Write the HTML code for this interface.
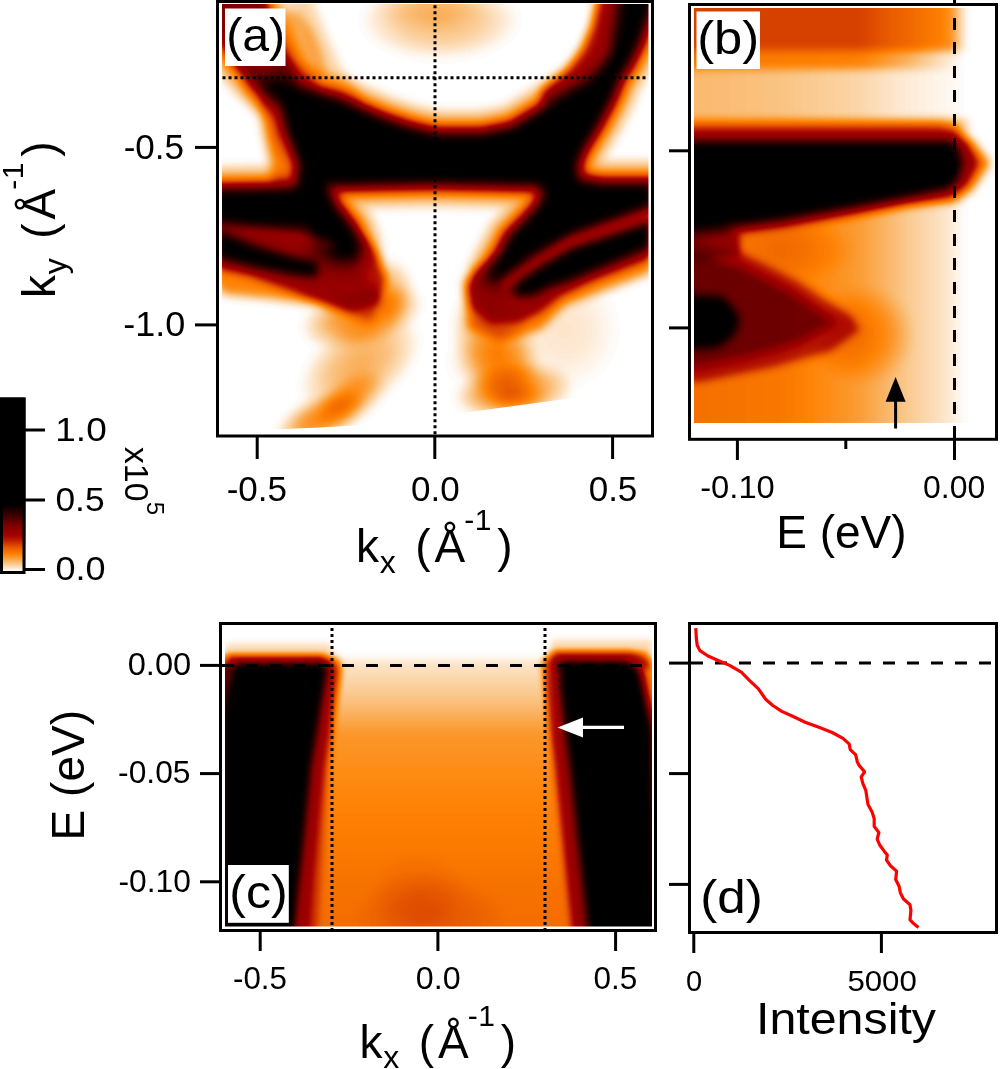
<!DOCTYPE html>
<html><head><meta charset="utf-8"><title>figure</title>
<style>
html,body{margin:0;padding:0;background:#fff;}
svg{display:block;will-change:transform;}
text{font-family:"Liberation Sans",sans-serif;fill:#000;}
</style></head><body>
<svg width="1000" height="1069" viewBox="0 0 1000 1069">
<defs>
<filter id="cmA" filterUnits="userSpaceOnUse" x="150" y="-60" width="560" height="560" color-interpolation-filters="sRGB">
<feGaussianBlur stdDeviation="5"/>
<feComponentTransfer>
<feFuncR type="table" tableValues="0 0.039 0.078 0.118 0.157 0.196 0.235 0.275 0.314 0.353 0.392 0.431 0.471 0.51 0.549 0.569 0.588 0.612 0.635 0.665 0.694 0.729 0.765 0.806 0.847 0.878 0.91 0.935 0.961 0.985 0.998 0.993 0.988 0.984 0.98 0.982 0.984 0.988 0.992 0.996 1"/>
<feFuncG type="table" tableValues="0 0 0 0 0 0 0 0 0 0 0 0 0 0 0 0 0 0 0 0.029 0.059 0.104 0.149 0.202 0.255 0.308 0.361 0.4 0.439 0.478 0.52 0.564 0.608 0.657 0.706 0.755 0.804 0.849 0.894 0.947 1"/>
<feFuncB type="table" tableValues="0 0 0 0 0 0 0 0 0 0 0 0 0 0 0 0 0 0 0 0 0 0 0 0 0 0 0 0 0 0 0.033 0.114 0.196 0.294 0.392 0.49 0.588 0.686 0.784 0.892 1"/>
</feComponentTransfer>
</filter>
<filter id="cmB" filterUnits="userSpaceOnUse" x="620" y="-60" width="440" height="560" color-interpolation-filters="sRGB">
<feGaussianBlur stdDeviation="4"/>
<feComponentTransfer>
<feFuncR type="table" tableValues="0 0.039 0.078 0.118 0.157 0.196 0.235 0.275 0.314 0.353 0.392 0.431 0.471 0.51 0.549 0.569 0.588 0.612 0.635 0.665 0.694 0.729 0.765 0.806 0.847 0.878 0.91 0.935 0.961 0.985 0.998 0.993 0.988 0.984 0.98 0.982 0.984 0.988 0.992 0.996 1"/>
<feFuncG type="table" tableValues="0 0 0 0 0 0 0 0 0 0 0 0 0 0 0 0 0 0 0 0.029 0.059 0.104 0.149 0.202 0.255 0.308 0.361 0.4 0.439 0.478 0.52 0.564 0.608 0.657 0.706 0.755 0.804 0.849 0.894 0.947 1"/>
<feFuncB type="table" tableValues="0 0 0 0 0 0 0 0 0 0 0 0 0 0 0 0 0 0 0 0 0 0 0 0 0 0 0 0 0 0 0.033 0.114 0.196 0.294 0.392 0.49 0.588 0.686 0.784 0.892 1"/>
</feComponentTransfer>
</filter>
<filter id="cmC" filterUnits="userSpaceOnUse" x="150" y="560" width="560" height="440" color-interpolation-filters="sRGB">
<feGaussianBlur stdDeviation="3"/>
<feComponentTransfer>
<feFuncR type="table" tableValues="0 0.039 0.078 0.118 0.157 0.196 0.235 0.275 0.314 0.353 0.392 0.431 0.471 0.51 0.549 0.569 0.588 0.612 0.635 0.665 0.694 0.729 0.765 0.806 0.847 0.878 0.91 0.935 0.961 0.985 0.998 0.993 0.988 0.984 0.98 0.982 0.984 0.988 0.992 0.996 1"/>
<feFuncG type="table" tableValues="0 0 0 0 0 0 0 0 0 0 0 0 0 0 0 0 0 0 0 0.029 0.059 0.104 0.149 0.202 0.255 0.308 0.361 0.4 0.439 0.478 0.52 0.564 0.608 0.657 0.706 0.755 0.804 0.849 0.894 0.947 1"/>
<feFuncB type="table" tableValues="0 0 0 0 0 0 0 0 0 0 0 0 0 0 0 0 0 0 0 0 0 0 0 0 0 0 0 0 0 0 0.033 0.114 0.196 0.294 0.392 0.49 0.588 0.686 0.784 0.892 1"/>
</feComponentTransfer>
</filter>
<filter id="cmK" filterUnits="userSpaceOnUse" x="-10" y="380" width="60" height="210" color-interpolation-filters="sRGB">
<feComponentTransfer>
<feFuncR type="table" tableValues="0 0.039 0.078 0.118 0.157 0.196 0.235 0.275 0.314 0.353 0.392 0.431 0.471 0.51 0.549 0.569 0.588 0.612 0.635 0.665 0.694 0.729 0.765 0.806 0.847 0.878 0.91 0.935 0.961 0.985 0.998 0.993 0.988 0.984 0.98 0.982 0.984 0.988 0.992 0.996 1"/>
<feFuncG type="table" tableValues="0 0 0 0 0 0 0 0 0 0 0 0 0 0 0 0 0 0 0 0.029 0.059 0.104 0.149 0.202 0.255 0.308 0.361 0.4 0.439 0.478 0.52 0.564 0.608 0.657 0.706 0.755 0.804 0.849 0.894 0.947 1"/>
<feFuncB type="table" tableValues="0 0 0 0 0 0 0 0 0 0 0 0 0 0 0 0 0 0 0 0 0 0 0 0 0 0 0 0 0 0 0.033 0.114 0.196 0.294 0.392 0.49 0.588 0.686 0.784 0.892 1"/>
</feComponentTransfer>
</filter>
<linearGradient id="cbg" x1="0" y1="571" x2="0" y2="505" gradientUnits="userSpaceOnUse">
<stop offset="0" stop-color="#fff"/><stop offset="1" stop-color="#000"/>
</linearGradient>
<linearGradient id="cgrad" x1="0" y1="662" x2="0" y2="930" gradientUnits="userSpaceOnUse">
<stop offset="0" stop-color="#fff"/><stop offset="0.25" stop-color="#d0d0d0"/><stop offset="1" stop-color="#b0b0b0"/>
</linearGradient>
<radialGradient id="rg1"><stop offset="0" stop-color="#000" stop-opacity="0.14"/><stop offset="0.5" stop-color="#000" stop-opacity="0.098"/><stop offset="1" stop-color="#000" stop-opacity="0"/></radialGradient>
<radialGradient id="rg2"><stop offset="0" stop-color="#000" stop-opacity="0.05"/><stop offset="0.5" stop-color="#000" stop-opacity="0.035"/><stop offset="1" stop-color="#000" stop-opacity="0"/></radialGradient>
<radialGradient id="rg3"><stop offset="0" stop-color="#000" stop-opacity="0.05"/><stop offset="0.5" stop-color="#000" stop-opacity="0.035"/><stop offset="1" stop-color="#000" stop-opacity="0"/></radialGradient>
<radialGradient id="rg4"><stop offset="0" stop-color="#000" stop-opacity="0.26"/><stop offset="0.5" stop-color="#000" stop-opacity="0.182"/><stop offset="1" stop-color="#000" stop-opacity="0"/></radialGradient>
<radialGradient id="rg5"><stop offset="0" stop-color="#000" stop-opacity="0.17"/><stop offset="0.5" stop-color="#000" stop-opacity="0.119"/><stop offset="1" stop-color="#000" stop-opacity="0"/></radialGradient>
<radialGradient id="rg6"><stop offset="0" stop-color="#000" stop-opacity="0.27"/><stop offset="0.5" stop-color="#000" stop-opacity="0.189"/><stop offset="1" stop-color="#000" stop-opacity="0"/></radialGradient>
<radialGradient id="rg7"><stop offset="0" stop-color="#000" stop-opacity="0.16"/><stop offset="0.5" stop-color="#000" stop-opacity="0.112"/><stop offset="1" stop-color="#000" stop-opacity="0"/></radialGradient>
<radialGradient id="rg8"><stop offset="0" stop-color="#000" stop-opacity="0.23"/><stop offset="0.5" stop-color="#000" stop-opacity="0.161"/><stop offset="1" stop-color="#000" stop-opacity="0"/></radialGradient>
<radialGradient id="rg9"><stop offset="0" stop-color="#000" stop-opacity="0.24"/><stop offset="0.5" stop-color="#000" stop-opacity="0.168"/><stop offset="1" stop-color="#000" stop-opacity="0"/></radialGradient>
<radialGradient id="rg10"><stop offset="0" stop-color="#000" stop-opacity="0.1"/><stop offset="0.5" stop-color="#000" stop-opacity="0.070"/><stop offset="1" stop-color="#000" stop-opacity="0"/></radialGradient>
<radialGradient id="rg11"><stop offset="0" stop-color="#000" stop-opacity="0.08"/><stop offset="0.5" stop-color="#000" stop-opacity="0.056"/><stop offset="1" stop-color="#000" stop-opacity="0"/></radialGradient>
<radialGradient id="rg12"><stop offset="0" stop-color="#000" stop-opacity="0.08"/><stop offset="0.5" stop-color="#000" stop-opacity="0.056"/><stop offset="1" stop-color="#000" stop-opacity="0"/></radialGradient>
<radialGradient id="rg13"><stop offset="0" stop-color="#000" stop-opacity="0.16"/><stop offset="0.5" stop-color="#000" stop-opacity="0.112"/><stop offset="1" stop-color="#000" stop-opacity="0"/></radialGradient>
<linearGradient id="lg14" gradientUnits="userSpaceOnUse" x1="680" y1="0" x2="970" y2="0"><stop offset="0.0483" stop-color="#000" stop-opacity="0.4"/><stop offset="0.6207" stop-color="#000" stop-opacity="0.4"/><stop offset="0.8276" stop-color="#000" stop-opacity="0.3"/><stop offset="0.9310" stop-color="#000" stop-opacity="0.24"/><stop offset="0.9862" stop-color="#000" stop-opacity="0.0"/></linearGradient>
<linearGradient id="lg15" gradientUnits="userSpaceOnUse" x1="680" y1="0" x2="970" y2="0"><stop offset="0.0483" stop-color="#000" stop-opacity="0.28"/><stop offset="0.6207" stop-color="#000" stop-opacity="0.26"/><stop offset="0.7931" stop-color="#000" stop-opacity="0.15"/><stop offset="0.8966" stop-color="#000" stop-opacity="0.06"/><stop offset="0.9724" stop-color="#000" stop-opacity="0.0"/></linearGradient>
<linearGradient id="lg16" gradientUnits="userSpaceOnUse" x1="680" y1="0" x2="970" y2="0"><stop offset="0.0483" stop-color="#000" stop-opacity="0.14"/><stop offset="0.3448" stop-color="#000" stop-opacity="0.12"/><stop offset="0.6207" stop-color="#000" stop-opacity="0.08"/><stop offset="0.7586" stop-color="#000" stop-opacity="0.04"/><stop offset="0.9483" stop-color="#000" stop-opacity="0.01"/><stop offset="0.9862" stop-color="#000" stop-opacity="0.0"/></linearGradient>
<linearGradient id="lg17" gradientUnits="userSpaceOnUse" x1="680" y1="0" x2="970" y2="0"><stop offset="0.0483" stop-color="#000" stop-opacity="0.32"/><stop offset="0.8966" stop-color="#000" stop-opacity="0.32"/><stop offset="0.9724" stop-color="#000" stop-opacity="0.15"/><stop offset="1.0172" stop-color="#000" stop-opacity="0.0"/></linearGradient>
<linearGradient id="lg18" gradientUnits="userSpaceOnUse" x1="694" y1="0" x2="966" y2="0"><stop offset="0" stop-color="#000" stop-opacity="0.3"/><stop offset="0.33" stop-color="#000" stop-opacity="0.28"/><stop offset="0.6" stop-color="#000" stop-opacity="0.2"/><stop offset="0.8" stop-color="#000" stop-opacity="0.1"/><stop offset="0.94" stop-color="#000" stop-opacity="0.04"/><stop offset="1" stop-color="#000" stop-opacity="0.0"/></linearGradient>
<radialGradient id="rg19"><stop offset="0" stop-color="#000" stop-opacity="0.14"/><stop offset="0.5" stop-color="#000" stop-opacity="0.098"/><stop offset="1" stop-color="#000" stop-opacity="0"/></radialGradient>
<radialGradient id="rg20"><stop offset="0" stop-color="#000" stop-opacity="0.06"/><stop offset="0.5" stop-color="#000" stop-opacity="0.042"/><stop offset="1" stop-color="#000" stop-opacity="0"/></radialGradient>
<linearGradient id="lg21" gradientUnits="userSpaceOnUse" x1="0" y1="655" x2="0" y2="935"><stop offset="0.0000" stop-color="#000" stop-opacity="0.0"/><stop offset="0.0321" stop-color="#000" stop-opacity="0.05"/><stop offset="0.1607" stop-color="#000" stop-opacity="0.12"/><stop offset="0.2857" stop-color="#000" stop-opacity="0.21"/><stop offset="0.5179" stop-color="#000" stop-opacity="0.25"/><stop offset="0.8036" stop-color="#000" stop-opacity="0.29"/><stop offset="0.9821" stop-color="#000" stop-opacity="0.31"/></linearGradient>
<radialGradient id="rg22"><stop offset="0" stop-color="#000" stop-opacity="0.08"/><stop offset="0.5" stop-color="#000" stop-opacity="0.056"/><stop offset="1" stop-color="#000" stop-opacity="0"/></radialGradient>
<radialGradient id="rg23"><stop offset="0" stop-color="#000" stop-opacity="0.05"/><stop offset="0.5" stop-color="#000" stop-opacity="0.035"/><stop offset="1" stop-color="#000" stop-opacity="0"/></radialGradient>
<clipPath id="clipA"><path d="M222,4 H648.5 V388 Q520,405 435,417 Q380,427 222,431 Z"/></clipPath>
<clipPath id="clipB"><rect x="694" y="8" width="300" height="415"/></clipPath>
<clipPath id="clipC"><rect x="225" y="625" width="427" height="301.5"/></clipPath>
</defs>

<rect x="0" y="0" width="1000" height="1069" fill="#fff"/>

<!-- ============ PANEL A HEATMAP ============ -->
<g clip-path="url(#clipA)">
<g filter="url(#cmA)">
<rect x="150" y="-60" width="560" height="560" fill="#fff"/>
<g id="A-shapes">
<ellipse cx="440" cy="20" rx="80" ry="40" fill="url(#rg1)"/>
<ellipse cx="430" cy="8" rx="60" ry="22" fill="url(#rg2)"/>
<ellipse cx="565" cy="330" rx="55" ry="60" fill="url(#rg3)"/>
<path d="M622,-5 652,-5 652,4 638,44 628,64 619,78 612,96 605,110 597,125 582,150 576,165 578,180 600,184 652,184 652,204 570,234 530,256 497,279 490,276 495,264 503,250 510,236 524,222 537,208 545,194 538,185 434,183 326,185 334,205 352,228 358,245 356,258 335,258 318,245 308,226 222,224 215,224 215,190 280,189 297,187 300,165 287,130 281,104 266,84 276,80 292,86 315,92 340,100 362,110 386,120 410,128 436,134 482,134 512,128 537,113 561,98 585,84 598,72 610,55 614,40 618,20 Z" fill="#000" fill-opacity="0.1" stroke="#000" stroke-opacity="0.1" stroke-width="46" stroke-linejoin="round"/>
<path d="M622,-5 652,-5 652,4 638,44 628,64 619,78 612,96 605,110 597,125 582,150 576,165 578,180 600,184 652,184 652,204 570,234 530,256 497,279 490,276 495,264 503,250 510,236 524,222 537,208 545,194 538,185 434,183 326,185 334,205 352,228 358,245 356,258 335,258 318,245 308,226 222,224 215,224 215,190 280,189 297,187 300,165 287,130 281,104 266,84 276,80 292,86 315,92 340,100 362,110 386,120 410,128 436,134 482,134 512,128 537,113 561,98 585,84 598,72 610,55 614,40 618,20 Z" fill="#000" fill-opacity="0.12" stroke="#000" stroke-opacity="0.12" stroke-width="32" stroke-linejoin="round"/>
<path d="M622,-5 652,-5 652,4 638,44 628,64 619,78 612,96 605,110 597,125 582,150 576,165 578,180 600,184 652,184 652,204 570,234 530,256 497,279 490,276 495,264 503,250 510,236 524,222 537,208 545,194 538,185 434,183 326,185 334,205 352,228 358,245 356,258 335,258 318,245 308,226 222,224 215,224 215,190 280,189 297,187 300,165 287,130 281,104 266,84 276,80 292,86 315,92 340,100 362,110 386,120 410,128 436,134 482,134 512,128 537,113 561,98 585,84 598,72 610,55 614,40 618,20 Z" fill="#000" fill-opacity="0.16" stroke="#000" stroke-opacity="0.16" stroke-width="20" stroke-linejoin="round"/>
<path d="M215,-5 262,-5 272,20 282,48 292,68 298,82 288,98 268,98 250,82 236,66 222,44 215,34 Z" fill="#000" fill-opacity="0.12" stroke="#000" stroke-opacity="0.12" stroke-width="36" stroke-linejoin="round"/>
<path d="M215,-5 262,-5 272,20 282,48 292,68 298,82 288,98 268,98 250,82 236,66 222,44 215,34 Z" fill="#000" fill-opacity="0.18" stroke="#000" stroke-opacity="0.18" stroke-width="18" stroke-linejoin="round"/>
<path d="M215,-5 262,-5 272,20 282,48 292,68 298,82 288,98 268,98 250,82 236,66 222,44 215,34 Z" fill="#000" fill-opacity="0.45" stroke="#000" stroke-opacity="0.45" stroke-width="0.1" stroke-linejoin="round"/>
<path d="M284,10 298,12 312,30 322,55 326,75 310,85 286,70 Z" fill="#000" fill-opacity="0.13" />
<path d="M300,0 316,40 332,75 350,98" fill="none" stroke="#000" stroke-opacity="0.08" stroke-width="22" stroke-linejoin="round" stroke-linecap="round"/>
<path d="M268,100 274,140 280,178" fill="none" stroke="#000" stroke-opacity="0.18" stroke-width="16" stroke-linejoin="round" stroke-linecap="round"/>
<path d="M215,215 300,222 345,250 380,300 372,322 320,305 270,298 225,294 215,285 Z" fill="#000" fill-opacity="0.25" />
<ellipse cx="362" cy="316" rx="62" ry="30" fill="url(#rg4)" transform="rotate(-15 362 316)"/>
<ellipse cx="360" cy="364" rx="68" ry="40" fill="url(#rg5)" transform="rotate(-35 360 364)"/>
<ellipse cx="322" cy="418" rx="50" ry="22" fill="url(#rg6)" transform="rotate(-25 322 418)"/>
<ellipse cx="352" cy="398" rx="40" ry="22" fill="url(#rg7)" transform="rotate(-35 352 398)"/>
<ellipse cx="497" cy="350" rx="66" ry="40" fill="url(#rg8)" transform="rotate(68 497 350)"/>
<ellipse cx="516" cy="390" rx="58" ry="28" fill="url(#rg9)" transform="rotate(-5 516 390)"/>
<ellipse cx="520" cy="398" rx="30" ry="14" fill="url(#rg10)"/>
<ellipse cx="488" cy="398" rx="36" ry="20" fill="url(#rg11)"/>
<ellipse cx="492" cy="362" rx="45" ry="30" fill="url(#rg12)"/>
<path d="M652,238 652,272 600,292 565,305 540,330 500,340 468,328 464,280 520,262 Z" fill="#000" fill-opacity="0.25" />
<path d="M610,-5 602,30 591,55 574,78 552,96" fill="none" stroke="#000" stroke-opacity="0.45" stroke-width="22" stroke-linejoin="round" stroke-linecap="round"/>
<path d="M622,-5 652,-5 652,4 638,44 628,64 619,78 612,96 605,110 597,125 582,150 576,165 578,180 600,184 652,184 652,204 570,234 530,256 497,279 490,276 495,264 503,250 510,236 524,222 537,208 545,194 538,185 434,183 326,185 334,205 352,228 358,245 356,258 335,258 318,245 308,226 222,224 215,224 215,190 280,189 297,187 300,165 287,130 281,104 266,84 276,80 292,86 315,92 340,100 362,110 386,120 410,128 436,134 482,134 512,128 537,113 561,98 585,84 598,72 610,55 614,40 618,20 Z" fill="#000" fill-opacity="0.45" stroke="#000" stroke-opacity="0.45" stroke-width="12" stroke-linejoin="round"/>
<path d="M215,216 300,220 338,222 364,236 378,254 386,280 378,302 352,310 320,302 290,290 250,276 215,268 Z" fill="#000" fill-opacity="0.45" />
<ellipse cx="388" cy="292" rx="26" ry="34" fill="url(#rg13)"/>
<path d="M652,204 652,258 590,282 560,296 540,312 520,322 490,322 472,308 467,290 474,270 492,258 530,250 570,234 Z" fill="#000" fill-opacity="0.45" />
<path d="M622,-5 652,-5 652,4 638,44 628,64 619,78 612,96 605,110 597,125 582,150 576,165 578,180 600,184 652,184 652,204 570,234 530,256 497,279 490,276 495,264 503,250 510,236 524,222 537,208 545,194 538,185 434,183 326,185 334,205 352,228 358,245 356,258 335,258 318,245 308,226 222,224 215,224 215,190 280,189 297,187 300,165 287,130 281,104 266,84 276,80 292,86 315,92 340,100 362,110 386,120 410,128 436,134 482,134 512,128 537,113 561,98 585,84 598,72 610,55 614,40 618,20 Z" fill="#000" fill-opacity="1" />
<path d="M215,230 256,246 296,257 318,262 318,278 296,276 256,268 215,258 Z" fill="#000" fill-opacity="1" />
<path d="M652,221 570,248 548,261 527,275 512,287 515,297 534,296 548,288 570,281 652,247 Z" fill="#000" fill-opacity="1" />
<path d="M652,212.5 L570,241 L530,266 L505,284" fill="none" stroke="#fff" stroke-opacity="0.35" stroke-width="7" stroke-linecap="round"/>
<path d="M215,226 L256,232 L300,238 L330,246" fill="none" stroke="#fff" stroke-opacity="0.25" stroke-width="8" stroke-linecap="round"/>
</g>
</g>
</g>

<!-- ============ PANEL B HEATMAP ============ -->
<g clip-path="url(#clipB)">
<g filter="url(#cmB)">
<rect x="620" y="-60" width="440" height="560" fill="#fff"/>
<g id="B-shapes">
<rect x="680" y="-10" width="290" height="61" fill="url(#lg14)"/>
<rect x="680" y="51" width="290" height="18" fill="url(#lg15)"/>
<rect x="680" y="69" width="290" height="51" fill="url(#lg16)"/>
<rect x="680" y="120" width="290" height="14" fill="url(#lg17)"/>
<path d="M680,128 955,128 972,140 990,163 972,190 955,202 906,207 844,218 782,228 694,240 680,242 Z" fill="#000" fill-opacity="0.3" />
<path d="M680,134 955,134 966,142 978,163 966,185 950,196 906,202 844,213 782,224 694,235 680,237 Z" fill="#000" fill-opacity="0.45" />
<path d="M680,215 790,210 860,200 940,192 960,192 970,192 970,430 680,430 Z" fill="url(#lg18)"/>
<ellipse cx="862" cy="335" rx="55" ry="50" fill="url(#rg19)"/>
<ellipse cx="800" cy="250" rx="60" ry="30" fill="url(#rg20)"/>
<path d="M680,226 725,226 740,238 738,256 680,262 Z" fill="#000" fill-opacity="0.45" />
<path d="M680,238 740,252 800,282 852,316 860,330 830,352 770,368 700,382 680,382 Z" fill="#000" fill-opacity="0.3" />
<path d="M680,250 740,266 790,292 835,322 800,342 750,356 690,368 680,368 Z" fill="#000" fill-opacity="0.45" />
<path d="M680,294 722,296 736,310 740,322 734,336 718,348 680,350 Z" fill="#000" fill-opacity="1" />
<path d="M680,141 950,141 958,148 963,163 958,180 950,188 906,197 844,208 782,219 694,230 680,231 Z" fill="#000" fill-opacity="1" />
</g>
</g>
</g>

<!-- ============ PANEL C HEATMAP ============ -->
<g clip-path="url(#clipC)">
<g filter="url(#cmC)">
<rect x="150" y="560" width="560" height="440" fill="#fff"/>
<g id="C-shapes">
<rect x="300" y="655" width="290" height="280" fill="url(#lg21)"/>
<ellipse cx="430" cy="915" rx="80" ry="45" fill="url(#rg22)"/>
<ellipse cx="418" cy="895" rx="50" ry="45" fill="url(#rg23)"/>
<path d="M226,644 330,644 336,660 226,660 Z" fill="#000" fill-opacity="0.07" />
<path d="M552,640 652,640 652,658 550,658 Z" fill="#000" fill-opacity="0.07" />
<path d="M222,668 322,668 327,672 322,700 311,766 299,885 295,935 222,935 Z" fill="#000" fill-opacity="0.3" stroke="#000" stroke-opacity="0.3" stroke-width="26" stroke-linejoin="round"/>
<path d="M222,668 322,668 327,672 322,700 311,766 299,885 295,935 222,935 Z" fill="#000" fill-opacity="0.45" stroke="#000" stroke-opacity="0.45" stroke-width="7" stroke-linejoin="round"/>
<path d="M228,655 322,655 330,662 330,672 228,672 Z" fill="#000" fill-opacity="0.3" />
<path d="M236,663 322,663 325,668 320,700 309,766 297,885 293,935 224,935 224,720 228,690 Z" fill="#000" fill-opacity="1" />
<path d="M558,665 628,665 640,672 646,700 652,725 655,935 589,935 570,766 560,690 Z" fill="#000" fill-opacity="0.3" stroke="#000" stroke-opacity="0.3" stroke-width="28" stroke-linejoin="round"/>
<path d="M558,665 628,665 640,672 646,700 652,725 655,935 589,935 570,766 560,690 Z" fill="#000" fill-opacity="0.45" stroke="#000" stroke-opacity="0.45" stroke-width="7" stroke-linejoin="round"/>
<path d="M554,652 645,652 652,660 652,668 554,668 Z" fill="#000" fill-opacity="0.3" />
<path d="M562,661 624,661 635,667 641,688 646,712 652,732 655,935 590,935 572,766 563,690 Z" fill="#000" fill-opacity="1" />
<path d="M334,665 322,760 310,930" fill="none" stroke="#000" stroke-opacity="0.18" stroke-width="16" stroke-linejoin="round" stroke-linecap="round"/>
<path d="M550,665 560,760 578,930" fill="none" stroke="#000" stroke-opacity="0.18" stroke-width="16" stroke-linejoin="round" stroke-linecap="round"/>
</g>
</g>
</g>

<!-- ============ COLORBAR ============ -->
<g filter="url(#cmK)">
<rect x="0" y="397.5" width="25.5" height="176.5" fill="url(#cbg)"/>
</g>
<rect x="1.5" y="399" width="22.5" height="173.5" fill="none" stroke="#000" stroke-width="3"/>
<g stroke="#000" stroke-width="3">
<line x1="25" y1="430" x2="45" y2="430"/>
<line x1="25" y1="500" x2="45" y2="500"/>
<line x1="25" y1="569.5" x2="45" y2="569.5"/>
</g>

<!-- ============ FRAMES ============ -->
<g fill="none" stroke="#000" stroke-width="3">
<rect x="217.5" y="1.5" width="435" height="434.5"/>
<rect x="689.5" y="4.5" width="307" height="434.8"/>
<rect x="220.5" y="623.5" width="435" height="307"/>
<rect x="689.5" y="623.5" width="307" height="309"/>
</g>

<!-- ============ TICKS ============ -->
<g stroke="#000" stroke-width="3">
<!-- a -->
<line x1="195" y1="147.4" x2="217" y2="147.4"/>
<line x1="195" y1="324.9" x2="217" y2="324.9"/>
<line x1="257.2" y1="436" x2="257.2" y2="459"/>
<line x1="434.8" y1="436" x2="434.8" y2="459"/>
<line x1="612.6" y1="436" x2="612.6" y2="459"/>
<!-- b -->
<line x1="669" y1="150.8" x2="689" y2="150.8"/>
<line x1="669" y1="327.9" x2="689" y2="327.9"/>
<line x1="737.4" y1="439" x2="737.4" y2="460"/>
<line x1="845.8" y1="439" x2="845.8" y2="449"/>
<line x1="954.5" y1="439" x2="954.5" y2="460"/>
<!-- c -->
<line x1="200" y1="665.4" x2="220" y2="665.4"/>
<line x1="200" y1="773.6" x2="220" y2="773.6"/>
<line x1="200" y1="881.8" x2="220" y2="881.8"/>
<line x1="260.2" y1="930" x2="260.2" y2="951"/>
<line x1="437.9" y1="930" x2="437.9" y2="951"/>
<line x1="615.6" y1="930" x2="615.6" y2="951"/>
<!-- d -->
<line x1="669" y1="663.1" x2="689" y2="663.1"/>
<line x1="669" y1="773.6" x2="689" y2="773.6"/>
<line x1="669" y1="884.4" x2="689" y2="884.4"/>
<line x1="693.8" y1="932" x2="693.8" y2="953"/>
<line x1="881.4" y1="932" x2="881.4" y2="953"/>
</g>

<!-- ============ GUIDE LINES ============ -->
<g stroke="#000" stroke-width="3" fill="none">
<line x1="435" y1="-0.75" x2="435" y2="434.5" stroke-dasharray="3 3"/>
<line x1="222.5" y1="77.75" x2="648.5" y2="77.75" stroke-dasharray="3 3"/>
<line x1="954.5" y1="-6" x2="954.5" y2="438" stroke-dasharray="12 12"/>
<line x1="222" y1="665.4" x2="652" y2="665.4" stroke-dasharray="12 12"/>
<line x1="332" y1="627.9" x2="332" y2="929" stroke-dasharray="3 3"/>
<line x1="545" y1="627.9" x2="545" y2="929" stroke-dasharray="3 3"/>
<line x1="691" y1="663.1" x2="995" y2="663.1" stroke-dasharray="12 12"/>
</g>

<!-- arrows -->
<g>
<line x1="895.6" y1="428.5" x2="895.6" y2="398" stroke="#000" stroke-width="3"/>
<path d="M895.6,377 L905.6,401.8 L885.6,401.8 Z" fill="#000"/>
<line x1="624" y1="727.4" x2="580" y2="727.4" stroke="#fff" stroke-width="3.2"/>
<path d="M557.5,727.4 L583,717.4 L583,737.4 Z" fill="#fff"/>
</g>

<!-- red curve -->
<path fill="none" stroke="#f00" stroke-width="3.2" stroke-linejoin="round" stroke-linecap="butt"
d="M695.8,628.1 L696.3,638 L697.2,645.2 L699.9,650.6 L708,656 L717,660 L729.6,665.4 L741.3,672.2 L749.4,680.3 L758.4,688.8 L765.6,699.2 L772.8,705.5 L781.8,711.4 L792.6,716.3 L805.2,722.2 L819.6,727.6 L832.2,732.5 L843,738.3 L849.3,744.2 L850.2,749.6 L855.6,754.6 L857.4,762.2 L859.5,765.9 L864.6,771.8 L861.2,776.8 L862.9,783.6 L865.8,790.3 L866.8,797 L868,804.6 L872.2,812.2 L874.2,818.9 L874.2,826.5 L878.9,832.4 L877.2,839.1 L879.7,845 L884,850.9 L887.3,855.1 L886.5,860.1 L890.7,866 L896.6,871.1 L895.7,879.5 L899.1,886.2 L900.4,892.9 L903.3,898.8 L910,904.7 L910.9,910.6 L910,919.9 L914.2,924.1 L918.5,927.5"/>

<!-- ============ PANEL LABELS ============ -->
<rect x="225" y="8.5" width="60.5" height="57.5" fill="#fff"/>
<rect x="696.5" y="11.5" width="63.5" height="57.5" fill="#fff"/>
<rect x="228" y="865" width="60.8" height="57.8" fill="#fff"/>
<g font-size="46">
<text x="226.2" y="51" textLength="59" lengthAdjust="spacingAndGlyphs">(a)</text>
<text x="697.2" y="54" textLength="62" lengthAdjust="spacingAndGlyphs">(b)</text>
<text x="229.2" y="907.5" textLength="58.5" lengthAdjust="spacingAndGlyphs">(c)</text>
<text x="700.2" y="913" textLength="62.5" lengthAdjust="spacingAndGlyphs">(d)</text>
</g>

<!-- ============ TICK LABELS ============ -->
<g font-size="35">
<text x="184" y="158.8" text-anchor="end">-0.5</text>
<text x="185.2" y="335.8" text-anchor="end" textLength="62" lengthAdjust="spacingAndGlyphs">-1.0</text>
<text x="256.8" y="501.4" text-anchor="middle">-0.5</text>
<text x="435.3" y="501.4" text-anchor="middle">0.0</text>
<text x="613" y="501.4" text-anchor="middle">0.5</text>
</g>
<g font-size="33">
<text x="81" y="440.8" text-anchor="middle" textLength="51.4" lengthAdjust="spacingAndGlyphs">1.0</text>
<text x="80" y="510.8" text-anchor="middle" textLength="49.1" lengthAdjust="spacingAndGlyphs">0.5</text>
<text x="80.5" y="579.8" text-anchor="middle" textLength="50.1" lengthAdjust="spacingAndGlyphs">0.0</text>
</g>
<g font-size="30.5">
<text x="737.5" y="497.8" text-anchor="middle" textLength="74.7" lengthAdjust="spacingAndGlyphs">-0.10</text>
<text x="954.1" y="497.8" text-anchor="middle" textLength="62.2" lengthAdjust="spacingAndGlyphs">0.00</text>
<text x="191.3" y="675" text-anchor="end" textLength="63.6" lengthAdjust="spacingAndGlyphs">0.00</text>
<text x="190.5" y="783.4" text-anchor="end" textLength="72.4" lengthAdjust="spacingAndGlyphs">-0.05</text>
<text x="190.9" y="892.3" text-anchor="end" textLength="72.4" lengthAdjust="spacingAndGlyphs">-0.10</text>
<text x="260" y="989.4" text-anchor="middle" textLength="53.9" lengthAdjust="spacingAndGlyphs">-0.5</text>
<text x="438.2" y="989.4" text-anchor="middle" textLength="44.8" lengthAdjust="spacingAndGlyphs">0.0</text>
<text x="615.5" y="989.4" text-anchor="middle" textLength="43.8" lengthAdjust="spacingAndGlyphs">0.5</text>
</g>
<g font-size="29">
<text x="694" y="991" text-anchor="middle">0</text>
<text x="882.1" y="991.2" text-anchor="middle" textLength="69.4" lengthAdjust="spacingAndGlyphs">5000</text>
</g>

<!-- ============ AXIS TITLES ============ -->
<defs>
<g id="klab">
<text x="-3" y="0" font-size="46">k</text>
<text x="75.4" y="0" font-size="46">Å</text>
<text x="56.2" y="0" font-size="46">(</text>
<text x="138.2" y="0" font-size="46">)</text>
<text x="105.2" y="-31.9" font-size="30">-</text>
<text x="115.8" y="-31.9" font-size="30">1</text>
</g>
</defs>
<g transform="translate(359,562.3)"><use href="#klab"/><text x="20.8" y="10.9" font-size="32">x</text></g>
<g transform="translate(362.5,1057.5)"><use href="#klab"/><text x="20.8" y="10.9" font-size="32">x</text></g>
<g transform="translate(54.7,295) rotate(-90)"><use href="#klab"/><text x="20.8" y="11.1" font-size="32">y</text></g>
<text x="776.2" y="548" font-size="46">E (eV)</text>
<text transform="translate(84,840.4) rotate(-90)" font-size="46">E (eV)</text>
<text x="756" y="1034.4" font-size="45" textLength="180" lengthAdjust="spacingAndGlyphs">Intensity</text>
<text transform="translate(125,446.8) rotate(90)" font-size="34">x10<tspan font-size="24" dy="-22">5</tspan></text>

</svg>
</body></html>
